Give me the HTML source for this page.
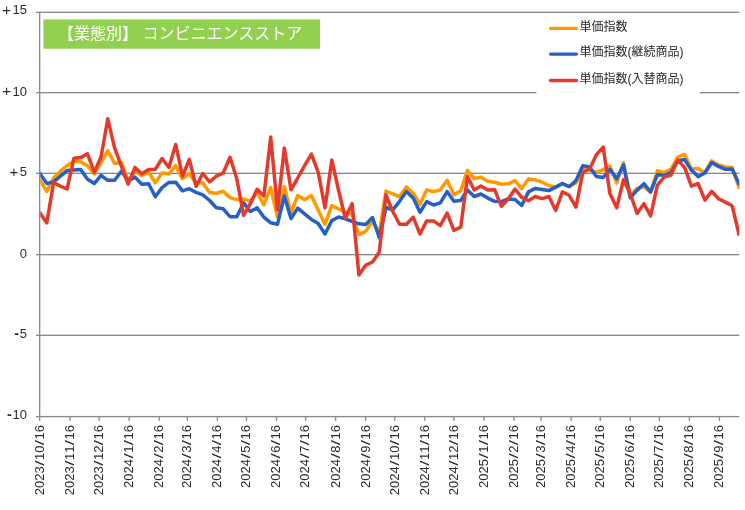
<!DOCTYPE html>
<html lang="ja">
<head>
<meta charset="utf-8">
<title>【業態別】 コンビニエンスストア</title>
<style>
html,body{margin:0;padding:0;background:#fff;}
body{width:745px;height:510px;overflow:hidden;font-family:"Liberation Sans",sans-serif;}
svg{display:block;will-change:transform;}
</style>
</head>
<body>
<svg width="745" height="510" viewBox="0 0 745 510" role="img" aria-label="【業態別】 コンビニエンスストア 単価指数 chart">
<rect width="745" height="510" fill="#fff"/>
<g fill="#898989">
<rect x="36" y="11.66" width="703.3" height="1.33"/>
<rect x="36" y="92.00" width="703.3" height="1.33"/>
<rect x="36" y="172.66" width="703.3" height="1.33"/>
<rect x="36" y="254.00" width="703.3" height="1.33"/>
<rect x="36" y="334.66" width="703.3" height="1.33"/>
<rect x="36" y="415.93" width="703.3" height="1.33"/>
<rect x="39" y="12" width="1.33" height="408.9"/>
<rect x="69.38" y="416" width="1.33" height="4.9"/>
<rect x="98.46" y="416" width="1.33" height="4.9"/>
<rect x="128.51" y="416" width="1.33" height="4.9"/>
<rect x="158.56" y="416" width="1.33" height="4.9"/>
<rect x="186.66" y="416" width="1.33" height="4.9"/>
<rect x="216.71" y="416" width="1.33" height="4.9"/>
<rect x="245.79" y="416" width="1.33" height="4.9"/>
<rect x="275.84" y="416" width="1.33" height="4.9"/>
<rect x="304.92" y="416" width="1.33" height="4.9"/>
<rect x="334.97" y="416" width="1.33" height="4.9"/>
<rect x="365.01" y="416" width="1.33" height="4.9"/>
<rect x="394.09" y="416" width="1.33" height="4.9"/>
<rect x="424.14" y="416" width="1.33" height="4.9"/>
<rect x="453.22" y="416" width="1.33" height="4.9"/>
<rect x="483.27" y="416" width="1.33" height="4.9"/>
<rect x="513.31" y="416" width="1.33" height="4.9"/>
<rect x="540.45" y="416" width="1.33" height="4.9"/>
<rect x="570.50" y="416" width="1.33" height="4.9"/>
<rect x="599.58" y="416" width="1.33" height="4.9"/>
<rect x="629.63" y="416" width="1.33" height="4.9"/>
<rect x="658.71" y="416" width="1.33" height="4.9"/>
<rect x="688.75" y="416" width="1.33" height="4.9"/>
<rect x="718.80" y="416" width="1.33" height="4.9"/>
</g>
<rect x="536.5" y="14" width="163" height="84" fill="#fff"/>
<rect x="43.4" y="19.4" width="276.6" height="29.3" fill="#92D050"/>
<clipPath id="plot"><rect x="40.3" y="12" width="699.1" height="405"/></clipPath>
<g clip-path="url(#plot)">
<polyline points="40.0,180.1 46.8,191.4 53.6,178.0 60.4,171.2 67.1,165.7 73.9,160.9 80.7,161.9 87.5,165.7 94.3,173.8 101.1,162.5 107.8,150.7 114.6,163.5 121.4,162.8 128.2,180.3 135.0,171.2 141.8,175.4 148.6,172.2 155.3,182.7 162.1,173.0 168.9,173.8 175.7,165.7 182.5,178.7 189.3,173.5 196.1,183.5 202.8,182.7 209.6,192.4 216.4,193.2 223.2,191.3 230.0,197.6 236.8,199.7 243.6,198.9 250.3,201.3 257.1,192.4 263.9,204.9 270.7,187.6 277.5,217.0 284.3,186.6 291.0,213.0 297.8,195.5 304.6,199.7 311.4,195.5 318.2,209.9 325.0,224.3 331.8,205.7 338.5,208.8 345.3,211.7 352.1,214.4 358.9,234.6 365.7,231.4 372.5,221.0 379.2,233.7 386.0,191.0 392.8,194.0 399.6,196.5 406.4,186.9 413.2,193.2 420.0,204.5 426.7,190.0 433.5,191.6 440.3,190.0 447.1,180.3 453.9,194.8 460.7,190.8 467.5,170.3 474.2,178.7 481.0,177.1 487.8,181.3 494.6,182.2 501.4,184.2 508.2,183.8 515.0,180.6 521.7,188.7 528.5,179.0 535.3,179.8 542.1,182.2 548.9,185.5 555.7,187.1 562.4,183.5 569.2,186.3 576.0,183.0 582.8,169.3 589.6,170.1 596.4,172.5 603.2,169.6 609.9,166.1 616.7,182.9 623.5,162.7 630.3,195.7 637.1,188.4 643.9,186.8 650.6,192.4 657.4,170.7 664.2,172.7 671.0,169.0 677.8,157.2 684.6,154.4 691.4,169.0 698.1,168.6 704.9,172.7 711.7,160.9 718.5,164.8 725.3,166.9 732.1,167.4 738.9,187.2" fill="none" stroke="#FF9900" stroke-width="3.5" stroke-linejoin="round" stroke-linecap="square"/>
<polyline points="40.0,173.8 46.8,183.5 53.6,181.9 60.4,176.1 67.1,170.6 73.9,170.1 80.7,169.6 87.5,179.3 94.3,183.5 101.1,175.4 107.8,180.3 114.6,180.3 121.4,171.2 128.2,180.9 135.0,177.1 141.8,184.2 148.6,183.8 155.3,196.8 162.1,187.6 168.9,182.4 175.7,182.2 182.5,190.8 189.3,188.7 196.1,192.4 202.8,194.8 209.6,200.5 216.4,207.8 223.2,208.8 230.0,216.7 236.8,216.7 243.6,202.9 250.3,211.5 257.1,207.8 263.9,217.2 270.7,222.8 277.5,224.3 284.3,196.0 291.0,218.6 297.8,208.1 304.6,213.8 311.4,219.4 318.2,223.5 325.0,234.0 331.8,220.6 338.5,217.0 345.3,218.8 352.1,221.4 358.9,223.8 365.7,224.4 372.5,217.5 379.2,237.5 386.0,207.5 392.8,209.9 399.6,201.3 406.4,191.4 413.2,198.1 420.0,212.3 426.7,201.6 433.5,205.0 440.3,202.9 447.1,191.6 453.9,201.3 460.7,200.5 467.5,190.0 474.2,196.5 481.0,194.0 487.8,198.1 494.6,201.3 501.4,201.6 508.2,199.0 515.0,199.5 521.7,205.5 528.5,191.9 535.3,188.4 542.1,189.5 548.9,190.6 555.7,187.1 562.4,183.5 569.2,186.8 576.0,180.6 582.8,165.7 589.6,166.9 596.4,176.6 603.2,177.5 609.9,169.3 616.7,178.8 623.5,165.1 630.3,197.8 637.1,190.2 643.9,183.7 650.6,191.8 657.4,174.8 664.2,175.3 671.0,172.7 677.8,160.7 684.6,159.6 691.4,170.1 698.1,176.6 704.9,173.0 711.7,162.5 718.5,166.4 725.3,169.3 732.1,169.0 738.9,183.5" fill="none" stroke="#2560C6" stroke-width="3.5" stroke-linejoin="round" stroke-linecap="square"/>
<polyline points="40.0,213.1 46.8,222.8 53.6,182.6 60.4,186.1 67.1,189.0 73.9,158.3 80.7,157.6 87.5,153.8 94.3,172.2 101.1,156.8 107.8,118.8 114.6,147.9 121.4,166.1 128.2,184.2 135.0,167.4 141.8,173.8 148.6,169.6 155.3,169.3 162.1,158.5 168.9,167.4 175.7,144.5 182.5,176.2 189.3,159.3 196.1,186.4 202.8,173.5 209.6,181.9 216.4,176.2 223.2,173.0 230.0,157.3 236.8,178.7 243.6,215.5 250.3,203.7 257.1,189.3 263.9,196.0 270.7,137.1 277.5,209.7 284.3,147.9 291.0,189.8 297.8,177.9 304.6,165.7 311.4,154.1 318.2,172.2 325.0,207.8 331.8,159.9 338.5,190.0 345.3,218.5 352.1,203.6 358.9,274.9 365.7,265.2 372.5,262.0 379.2,252.3 386.0,194.8 392.8,211.5 399.6,224.3 406.4,224.3 413.2,217.2 420.0,234.0 426.7,220.9 433.5,220.9 440.3,225.6 447.1,213.0 453.9,230.4 460.7,227.2 467.5,176.4 474.2,190.0 481.0,186.1 487.8,190.0 494.6,189.7 501.4,206.3 508.2,199.0 515.0,189.0 521.7,197.4 528.5,200.7 535.3,196.5 542.1,198.6 548.9,196.5 555.7,210.4 562.4,191.9 569.2,195.3 576.0,207.1 582.8,172.5 589.6,169.0 596.4,154.7 603.2,147.1 609.9,193.4 616.7,207.8 623.5,179.6 630.3,194.0 637.1,213.4 643.9,203.7 650.6,215.9 657.4,185.1 664.2,177.1 671.0,175.0 677.8,160.1 684.6,167.4 691.4,186.1 698.1,183.5 704.9,200.2 711.7,191.3 718.5,198.7 725.3,202.1 732.1,205.7 738.9,233.8" fill="none" stroke="#E43A2C" stroke-width="3.5" stroke-linejoin="round" stroke-linecap="square"/>
</g>
<line x1="550.6" y1="28.4" x2="576.4" y2="28.4" stroke="#FF9900" stroke-width="3.4" stroke-linecap="round"/>
<line x1="550.6" y1="54.1" x2="576.4" y2="54.1" stroke="#2560C6" stroke-width="3.4" stroke-linecap="round"/>
<line x1="550.6" y1="80.5" x2="576.4" y2="80.5" stroke="#E43A2C" stroke-width="3.4" stroke-linecap="round"/>
<g font-family="&quot;Liberation Sans&quot;, sans-serif" font-size="13.0" fill="#2b2b2b">
<text x="12.41 19.66" y="14.2">15</text>
<text x="6.75" y="14.60" font-size="15" text-anchor="middle">+</text>
<text x="12.41 19.66" y="95.7">10</text>
<text x="6.75" y="96.10" font-size="15" text-anchor="middle">+</text>
<text x="19.66" y="176.2">5</text>
<text x="14.00" y="176.60" font-size="15" text-anchor="middle">+</text>
<text x="19.66" y="257.5">0</text>
<text x="19.66" y="338.0">5</text>
<text x="16.70" y="337.70" font-size="14" font-weight="bold" text-anchor="middle">-</text>
<text x="12.41 19.66" y="419.4">10</text>
<text x="9.45" y="419.10" font-size="14" font-weight="bold" text-anchor="middle">-</text>
<g transform="translate(43.90,425.0) rotate(-90)"><text x="-70.19 -62.94 -55.69 -48.44" y="0">2023</text><text transform="translate(-40.73,0) scale(1.43,1)">/</text><text x="-35.09 -27.84" y="0">10</text><text transform="translate(-20.13,0) scale(1.43,1)">/</text><text x="-14.49 -7.24" y="0">16</text></g>
<g transform="translate(73.95,425.0) rotate(-90)"><text x="-70.19 -62.94 -55.69 -48.44" y="0">2023</text><text transform="translate(-40.73,0) scale(1.43,1)">/</text><text x="-35.09 -27.84" y="0">11</text><text transform="translate(-20.13,0) scale(1.43,1)">/</text><text x="-14.49 -7.24" y="0">16</text></g>
<g transform="translate(103.03,425.0) rotate(-90)"><text x="-70.19 -62.94 -55.69 -48.44" y="0">2023</text><text transform="translate(-40.73,0) scale(1.43,1)">/</text><text x="-35.09 -27.84" y="0">12</text><text transform="translate(-20.13,0) scale(1.43,1)">/</text><text x="-14.49 -7.24" y="0">16</text></g>
<g transform="translate(133.07,425.0) rotate(-90)"><text x="-62.94 -55.69 -48.44 -41.19" y="0">2024</text><text transform="translate(-33.48,0) scale(1.43,1)">/</text><text x="-27.84" y="0">1</text><text transform="translate(-20.13,0) scale(1.43,1)">/</text><text x="-14.49 -7.24" y="0">16</text></g>
<g transform="translate(163.12,425.0) rotate(-90)"><text x="-62.94 -55.69 -48.44 -41.19" y="0">2024</text><text transform="translate(-33.48,0) scale(1.43,1)">/</text><text x="-27.84" y="0">2</text><text transform="translate(-20.13,0) scale(1.43,1)">/</text><text x="-14.49 -7.24" y="0">16</text></g>
<g transform="translate(191.23,425.0) rotate(-90)"><text x="-62.94 -55.69 -48.44 -41.19" y="0">2024</text><text transform="translate(-33.48,0) scale(1.43,1)">/</text><text x="-27.84" y="0">3</text><text transform="translate(-20.13,0) scale(1.43,1)">/</text><text x="-14.49 -7.24" y="0">16</text></g>
<g transform="translate(221.28,425.0) rotate(-90)"><text x="-62.94 -55.69 -48.44 -41.19" y="0">2024</text><text transform="translate(-33.48,0) scale(1.43,1)">/</text><text x="-27.84" y="0">4</text><text transform="translate(-20.13,0) scale(1.43,1)">/</text><text x="-14.49 -7.24" y="0">16</text></g>
<g transform="translate(250.36,425.0) rotate(-90)"><text x="-62.94 -55.69 -48.44 -41.19" y="0">2024</text><text transform="translate(-33.48,0) scale(1.43,1)">/</text><text x="-27.84" y="0">5</text><text transform="translate(-20.13,0) scale(1.43,1)">/</text><text x="-14.49 -7.24" y="0">16</text></g>
<g transform="translate(280.41,425.0) rotate(-90)"><text x="-62.94 -55.69 -48.44 -41.19" y="0">2024</text><text transform="translate(-33.48,0) scale(1.43,1)">/</text><text x="-27.84" y="0">6</text><text transform="translate(-20.13,0) scale(1.43,1)">/</text><text x="-14.49 -7.24" y="0">16</text></g>
<g transform="translate(309.48,425.0) rotate(-90)"><text x="-62.94 -55.69 -48.44 -41.19" y="0">2024</text><text transform="translate(-33.48,0) scale(1.43,1)">/</text><text x="-27.84" y="0">7</text><text transform="translate(-20.13,0) scale(1.43,1)">/</text><text x="-14.49 -7.24" y="0">16</text></g>
<g transform="translate(339.53,425.0) rotate(-90)"><text x="-62.94 -55.69 -48.44 -41.19" y="0">2024</text><text transform="translate(-33.48,0) scale(1.43,1)">/</text><text x="-27.84" y="0">8</text><text transform="translate(-20.13,0) scale(1.43,1)">/</text><text x="-14.49 -7.24" y="0">16</text></g>
<g transform="translate(369.58,425.0) rotate(-90)"><text x="-62.94 -55.69 -48.44 -41.19" y="0">2024</text><text transform="translate(-33.48,0) scale(1.43,1)">/</text><text x="-27.84" y="0">9</text><text transform="translate(-20.13,0) scale(1.43,1)">/</text><text x="-14.49 -7.24" y="0">16</text></g>
<g transform="translate(398.66,425.0) rotate(-90)"><text x="-70.19 -62.94 -55.69 -48.44" y="0">2024</text><text transform="translate(-40.73,0) scale(1.43,1)">/</text><text x="-35.09 -27.84" y="0">10</text><text transform="translate(-20.13,0) scale(1.43,1)">/</text><text x="-14.49 -7.24" y="0">16</text></g>
<g transform="translate(428.71,425.0) rotate(-90)"><text x="-70.19 -62.94 -55.69 -48.44" y="0">2024</text><text transform="translate(-40.73,0) scale(1.43,1)">/</text><text x="-35.09 -27.84" y="0">11</text><text transform="translate(-20.13,0) scale(1.43,1)">/</text><text x="-14.49 -7.24" y="0">16</text></g>
<g transform="translate(457.78,425.0) rotate(-90)"><text x="-70.19 -62.94 -55.69 -48.44" y="0">2024</text><text transform="translate(-40.73,0) scale(1.43,1)">/</text><text x="-35.09 -27.84" y="0">12</text><text transform="translate(-20.13,0) scale(1.43,1)">/</text><text x="-14.49 -7.24" y="0">16</text></g>
<g transform="translate(487.83,425.0) rotate(-90)"><text x="-62.94 -55.69 -48.44 -41.19" y="0">2025</text><text transform="translate(-33.48,0) scale(1.43,1)">/</text><text x="-27.84" y="0">1</text><text transform="translate(-20.13,0) scale(1.43,1)">/</text><text x="-14.49 -7.24" y="0">16</text></g>
<g transform="translate(517.88,425.0) rotate(-90)"><text x="-62.94 -55.69 -48.44 -41.19" y="0">2025</text><text transform="translate(-33.48,0) scale(1.43,1)">/</text><text x="-27.84" y="0">2</text><text transform="translate(-20.13,0) scale(1.43,1)">/</text><text x="-14.49 -7.24" y="0">16</text></g>
<g transform="translate(545.02,425.0) rotate(-90)"><text x="-62.94 -55.69 -48.44 -41.19" y="0">2025</text><text transform="translate(-33.48,0) scale(1.43,1)">/</text><text x="-27.84" y="0">3</text><text transform="translate(-20.13,0) scale(1.43,1)">/</text><text x="-14.49 -7.24" y="0">16</text></g>
<g transform="translate(575.07,425.0) rotate(-90)"><text x="-62.94 -55.69 -48.44 -41.19" y="0">2025</text><text transform="translate(-33.48,0) scale(1.43,1)">/</text><text x="-27.84" y="0">4</text><text transform="translate(-20.13,0) scale(1.43,1)">/</text><text x="-14.49 -7.24" y="0">16</text></g>
<g transform="translate(604.15,425.0) rotate(-90)"><text x="-62.94 -55.69 -48.44 -41.19" y="0">2025</text><text transform="translate(-33.48,0) scale(1.43,1)">/</text><text x="-27.84" y="0">5</text><text transform="translate(-20.13,0) scale(1.43,1)">/</text><text x="-14.49 -7.24" y="0">16</text></g>
<g transform="translate(634.19,425.0) rotate(-90)"><text x="-62.94 -55.69 -48.44 -41.19" y="0">2025</text><text transform="translate(-33.48,0) scale(1.43,1)">/</text><text x="-27.84" y="0">6</text><text transform="translate(-20.13,0) scale(1.43,1)">/</text><text x="-14.49 -7.24" y="0">16</text></g>
<g transform="translate(663.27,425.0) rotate(-90)"><text x="-62.94 -55.69 -48.44 -41.19" y="0">2025</text><text transform="translate(-33.48,0) scale(1.43,1)">/</text><text x="-27.84" y="0">7</text><text transform="translate(-20.13,0) scale(1.43,1)">/</text><text x="-14.49 -7.24" y="0">16</text></g>
<g transform="translate(693.32,425.0) rotate(-90)"><text x="-62.94 -55.69 -48.44 -41.19" y="0">2025</text><text transform="translate(-33.48,0) scale(1.43,1)">/</text><text x="-27.84" y="0">8</text><text transform="translate(-20.13,0) scale(1.43,1)">/</text><text x="-14.49 -7.24" y="0">16</text></g>
<g transform="translate(723.37,425.0) rotate(-90)"><text x="-62.94 -55.69 -48.44 -41.19" y="0">2025</text><text transform="translate(-33.48,0) scale(1.43,1)">/</text><text x="-27.84" y="0">9</text><text transform="translate(-20.13,0) scale(1.43,1)">/</text><text x="-14.49 -7.24" y="0">16</text></g>
</g>
<text x="58" y="38.9" font-family="&quot;Liberation Sans&quot;, &quot;Noto Sans CJK JP&quot;, sans-serif" font-size="16" fill="#fff">【業態別】 コンビニエンスストア</text>
<text x="579.5" y="30.8" font-family="&quot;Liberation Sans&quot;, &quot;Noto Sans CJK JP&quot;, sans-serif" font-size="12" fill="#262626">単価指数</text>
<text x="579.5" y="56.4" font-family="&quot;Liberation Sans&quot;, &quot;Noto Sans CJK JP&quot;, sans-serif" font-size="12" fill="#262626">単価指数(継続商品)</text>
<text x="579.5" y="82.5" font-family="&quot;Liberation Sans&quot;, &quot;Noto Sans CJK JP&quot;, sans-serif" font-size="12" fill="#262626">単価指数(入替商品)</text>
</svg>
</body>
</html>
